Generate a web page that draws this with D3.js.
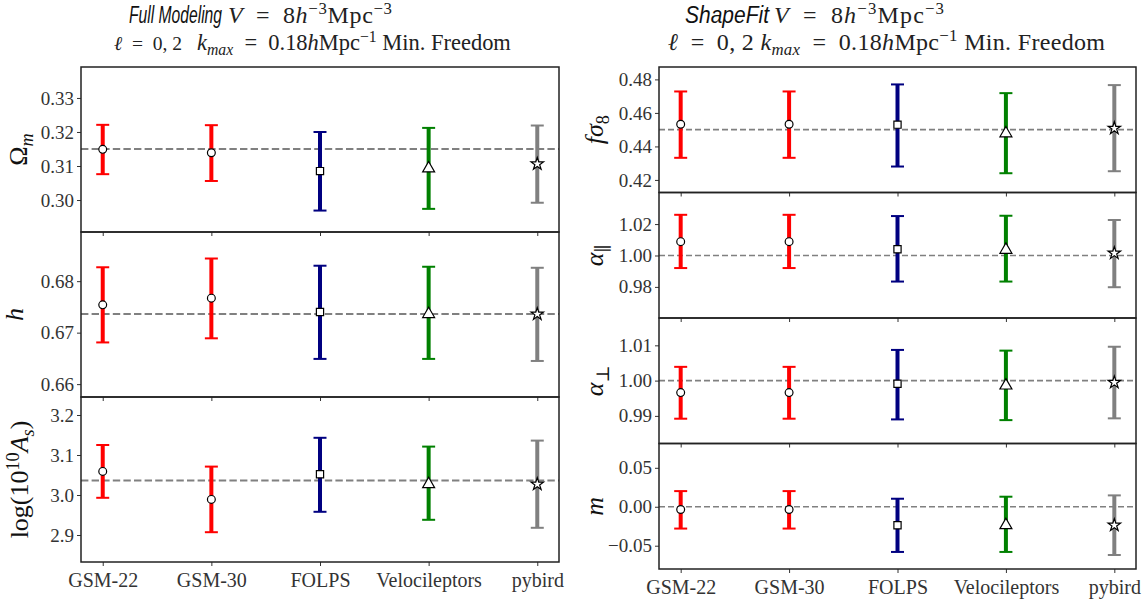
<!DOCTYPE html>
<html>
<head>
<meta charset="utf-8">
<script src="https://cdn.jsdelivr.net/npm/d3@7"></script>
<style>
  body { margin: 0; background: #fff; }
  svg { display: block; }
</style>
</head>
<body>
<div id="chart"></div>
<script>
// codes compared in every panel
const codes = ["GSM-22", "GSM-30", "FOLPS", "Velocileptors", "pybird"];
const colors = ["#ff0000", "#ff0000", "#000080", "#008000", "#808080"];
const shapes = ["circle", "circle", "square", "triangle", "star"];

// Full Modeling
const omegaM   = [0.3149, 0.3139, 0.3085, 0.3093, 0.3106];
const omegaMLo = [0.3076, 0.3056, 0.2969, 0.2974, 0.2992];
const omegaMHi = [0.3221, 0.3220, 0.3200, 0.3212, 0.3219];
const hVal   = [0.6754, 0.6767, 0.6740, 0.6736, 0.6736];
const hLo    = [0.6681, 0.6689, 0.6649, 0.6649, 0.6645];
const hHi    = [0.6827, 0.6844, 0.6830, 0.6828, 0.6826];
const lnAs   = [3.059, 2.989, 3.052, 3.027, 3.027];
const lnAsLo = [2.993, 2.907, 2.958, 2.938, 2.918];
const lnAsHi = [3.125, 3.071, 3.143, 3.121, 3.136];
const fmTruth = [0.315, 0.6736, 3.036];

// ShapeFit
const fs8   = [0.4532, 0.4532, 0.4530, 0.4478, 0.4508];
const fs8Lo = [0.4332, 0.4332, 0.4280, 0.4240, 0.4252];
const fs8Hi = [0.4728, 0.4728, 0.4770, 0.4718, 0.4766];
const aPar   = [1.0088, 1.0088, 1.0040, 1.0036, 1.0015];
const aParLo = [0.9920, 0.9920, 0.9834, 0.9834, 0.9798];
const aParHi = [1.0259, 1.0259, 1.0251, 1.0253, 1.0226];
const aPer   = [0.9966, 0.9966, 0.9991, 0.9986, 0.9995];
const aPerLo = [0.9892, 0.9892, 0.9890, 0.9888, 0.9893];
const aPerHi = [1.0039, 1.0039, 1.0087, 1.0085, 1.0096];
const mVal = [-0.0035, -0.0035, -0.0237, -0.0237, -0.0237];
const mLo  = [-0.028, -0.028, -0.058, -0.058, -0.0619];
const mHi  = [0.0201, 0.0201, 0.0103, 0.0129, 0.0146];
const sfTruth = [0.45, 1.0, 1.0, 0.0];

const SERIF = "'Liberation Serif', 'Times New Roman', 'DejaVu Serif', serif";
const SANS = "'Liberation Sans', Arial, sans-serif";

const width = 1146, height = 601;
const svg = d3.select("#chart").append("svg")
  .attr("width", width).attr("height", height);

// rich text: segments {t, it, sup, sub}
function rich(g, x, y, segs, size) {
  const text = g.append("text").attr("x", x).attr("y", y)
    .attr("font-family", SERIF)
    .attr("font-size", size).attr("fill", "#222");
  let shift = 0;
  segs.forEach(s => {
    const target = s.sup ? -0.36 * size : s.sub ? 0.22 * size : 0;
    text.append("tspan")
      .attr("dy", target - shift)
      .attr("font-size", s.sup || s.sub ? size * 0.7 : size)
      .attr("font-style", s.it ? "italic" : "normal")
      .text(s.t);
    shift = target;
  });
  return text;
}

// scale a rich text so it spans `target` px, font size capped
function fitRich(g, x, y, segs, size, target, maxSize) {
  let t = rich(g, x, y, segs, size);
  const w = t.node().getComputedTextLength();
  t.remove();
  const s2 = Math.min(size * target / w, maxSize);
  t = rich(g, x, y, segs, s2);
  const w2 = t.node().getComputedTextLength();
  if (Math.abs(w2 - target) > 3) t.attr("textLength", target).attr("lengthAdjust", "spacing");
  return t;
}

function drawColumn(cfg) {
  const x = d3.scaleLinear().domain([-0.2, 4.2]).range([cfg.left, cfg.right]);
  cfg.panels.forEach((p, k) => {
    const top = cfg.top + k * cfg.h, bottom = top + cfg.h;
    const y = d3.scaleLinear().domain(p.domain).range([bottom, top]);
    const g = svg.append("g");

    // y axis
    const ya = g.append("g").attr("transform", `translate(${cfg.left},0)`)
      .call(d3.axisLeft(y).tickValues(p.ticks).tickFormat(d3.format(p.fmt)).tickSize(4).tickPadding(3));
    ya.attr("font-family", SERIF).attr("font-size", 19);
    ya.select(".domain").remove();
    ya.selectAll(".tick line").attr("stroke", "#333");
    ya.selectAll(".tick text").attr("fill", "#333");

    // x ticks on each panel bottom
    const xa = g.append("g").attr("transform", `translate(0,${bottom})`)
      .call(d3.axisBottom(x).tickValues(d3.range(codes.length)).tickSize(4)
        .tickFormat(k === cfg.panels.length - 1 ? (i => codes[i]) : ""));
    xa.attr("font-family", SERIF).attr("font-size", 20);
    xa.select(".domain").remove();
    xa.selectAll(".tick line").attr("stroke", "#333");
    xa.selectAll(".tick text").attr("fill", "#333").attr("dy", "0.9em");

    // truth line
    g.append("line")
      .attr("x1", cfg.left).attr("x2", cfg.right)
      .attr("y1", y(p.truth)).attr("y2", y(p.truth))
      .attr("stroke", "#808080").attr("stroke-width", cfg.dashW)
      .attr("stroke-dasharray", cfg.dash);

    // error bars
    const idx = d3.range(codes.length);
    g.selectAll(".eb").data(idx).join("line")
      .attr("x1", i => x(i)).attr("x2", i => x(i))
      .attr("y1", i => y(p.lo[i])).attr("y2", i => y(p.hi[i]))
      .attr("stroke", i => colors[i]).attr("stroke-width", 4);
    [p.lo, p.hi].forEach(arr => {
      g.selectAll(null).data(idx).join("line")
        .attr("x1", i => x(i) - 6.5).attr("x2", i => x(i) + 6.5)
        .attr("y1", i => y(arr[i])).attr("y2", i => y(arr[i]))
        .attr("stroke", i => colors[i]).attr("stroke-width", 2);
    });

    // markers
    const sym = { circle: [d3.symbolCircle, 48], square: [d3.symbolSquare, 52],
                  triangle: [d3.symbolTriangle, 62], star: [d3.symbolStar, 48] };
    g.selectAll("path.mk").data(idx).join("path")
      .attr("transform", i => `translate(${x(i)},${y(p.val[i])})`)
      .attr("d", i => d3.symbol(sym[shapes[i]][0], sym[shapes[i]][1])())
      .attr("fill", "#fff").attr("stroke", "#000").attr("stroke-width", 1.2);

    // frame
    g.append("rect").attr("x", cfg.left).attr("y", top)
      .attr("width", cfg.right - cfg.left).attr("height", cfg.h)
      .attr("fill", "none").attr("stroke", "#222").attr("stroke-width", 1.5);

    // y label
    const lg = svg.append("g")
      .attr("transform", `translate(${cfg.left - p.lx},${(top + bottom) / 2}) rotate(-90)`);
    rich(lg, 0, 0, p.label, 26).attr("text-anchor", "middle").attr("fill", "#111");
  });
}

drawColumn({
  left: 81, right: 559, top: 67, h: 165, dash: "7.4,3.2", dashW: 2,
  panels: [
    { domain: [0.2906, 0.3391], ticks: [0.30, 0.31, 0.32, 0.33], fmt: ".2f", truth: fmTruth[0],
      val: omegaM, lo: omegaMLo, hi: omegaMHi, lx: 54,
      label: [{ t: "Ω" }, { t: "m", it: true, sub: true }] },
    { domain: [0.6575, 0.68955], ticks: [0.66, 0.67, 0.68], fmt: ".2f", truth: fmTruth[1],
      val: hVal, lo: hLo, hi: hHi, lx: 58,
      label: [{ t: "h", it: true }] },
    { domain: [2.8325, 3.245], ticks: [2.9, 3.0, 3.1, 3.2], fmt: ".1f", truth: fmTruth[2],
      val: lnAs, lo: lnAsLo, hi: lnAsHi, lx: 53,
      label: [{ t: "log(10" }, { t: "10", sup: true }, { t: "A", it: true }, { t: "s", it: true, sub: true }, { t: ")" }] }
  ]
});

drawColumn({
  left: 659, right: 1136, top: 67, h: 125.5, dash: "6,3", dashW: 1.6,
  panels: [
    { domain: [0.4125, 0.4874], ticks: [0.42, 0.44, 0.46, 0.48], fmt: ".2f", truth: sfTruth[0],
      val: fs8, lo: fs8Lo, hi: fs8Hi, lx: 56,
      label: [{ t: "fσ", it: true }, { t: "8", sub: true }] },
    { domain: [0.9602, 1.0401], ticks: [0.98, 1.00, 1.02], fmt: ".2f", truth: sfTruth[1],
      val: aPar, lo: aParLo, hi: aParHi, lx: 56,
      label: [{ t: "α", it: true }, { t: "∥", sub: true }] },
    { domain: [0.98217, 1.01775], ticks: [0.99, 1.00, 1.01], fmt: ".2f", truth: sfTruth[2],
      val: aPer, lo: aPerLo, hi: aPerHi, lx: 56,
      label: [{ t: "α", it: true }, { t: "⊥", sub: true }] },
    { domain: [-0.0799, 0.0812], ticks: [-0.05, 0, 0.05], fmt: ".2f", truth: sfTruth[3],
      val: mVal, lo: mLo, hi: mHi, lx: 56,
      label: [{ t: "m", it: true }] }
  ]
});

// titles
const tg = svg.append("g");
const volSegs = [
  { t: "V", it: true }, { t: "\u2002=\u20028" },
  { t: "h", it: true }, { t: "−3", sup: true }, { t: "Mpc" }, { t: "−3", sup: true }
];
const kSegs = [
  { t: "k", it: true }, { t: "max", it: true, sub: true },
  { t: "\u2002=\u20020.18" }, { t: "h", it: true }, { t: "Mpc" }, { t: "−1", sup: true }, { t: " Min. Freedom" }
];
function sansTitle(x, label, len) {
  tg.append("text").attr("x", x).attr("y", 23)
    .attr("font-family", SANS).attr("font-style", "italic").attr("font-size", 23).attr("fill", "#111")
    .attr("textLength", len).attr("lengthAdjust", "spacingAndGlyphs").text(label);
}
// left title
sansTitle(129, "Full Modeling", 93);
fitRich(tg, 228, 23, volSegs, 22, 164, 24);
fitRich(tg, 114, 50, [{ t: "ℓ", it: true }, { t: "\u2002=\u20020, 2" }], 22, 68, 24);
fitRich(tg, 197, 50, kSegs, 22, 314, 24);
// right title
sansTitle(685, "ShapeFit", 84);
fitRich(tg, 774, 23, volSegs, 22, 170, 24);
fitRich(tg, 668, 50, [{ t: "ℓ", it: true }, { t: "\u2002=\u20020, 2 " }].concat(kSegs), 22, 437, 24);
</script>
</body>
</html>
